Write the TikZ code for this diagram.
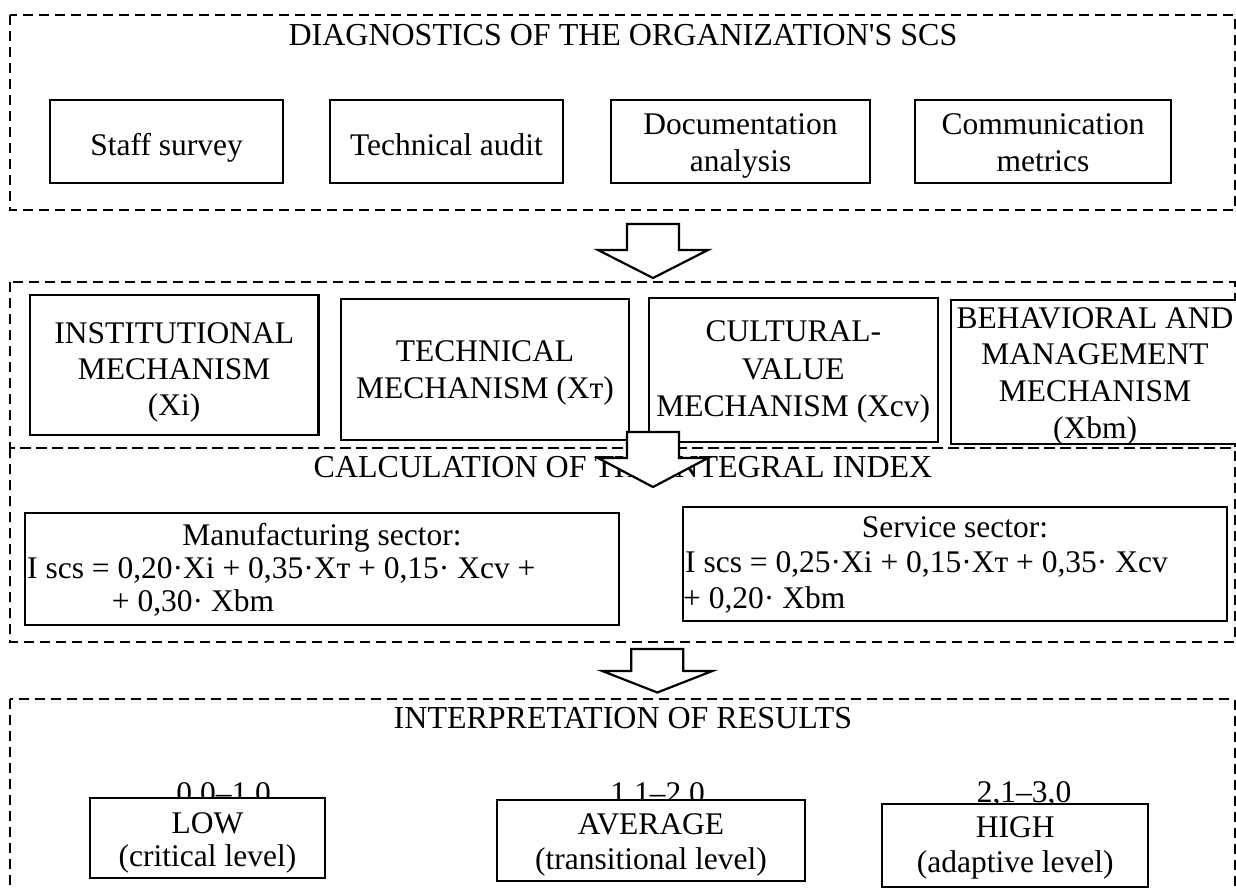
\documentclass[tikz,border=0pt]{standalone}
\usepackage{fontspec}
\setmainfont{Liberation Serif}
\newcommand{\mlines}[5]{% #1 name prefix, #2 x, #3 first baseline, #4 spacing, #5 lines
  \foreach \ln [count=\k from 0] in {#5} {%
    \node[lbl, anchor=base] (#1\k) at (#2,{#3+#4*\k}) {\ln};}}
\begin{document}
\begin{tikzpicture}[x=1pt,y=-1pt,
  font=\fontsize{31.5}{36}\selectfont,
  frame/.style={draw, line width=2pt, dash pattern=on 10pt off 6pt},
  box/.style={draw, line width=2.3pt, fill=white, inner sep=0pt},
  lbl/.style={inner sep=0pt},
  ttl/.style={inner sep=0pt, font=\fontsize{32}{36}\selectfont},
  barrow/.style={draw, line width=2.2pt, fill=white, line join=miter}]
\useasboundingbox (0,0) rectangle (1236,888);
\clip (0,0) rectangle (1236,888);

% frames
\draw[frame] (10,15) rectangle (1234.5,210);
\draw[frame] (10,282) rectangle (1234.5,448);
\draw[frame] (10,448) rectangle (1234.5,642);
\draw[frame] (10,699) rectangle (1234.5,900);

% titles
\node[ttl, anchor=base] (t1) at (623,46) {DIAGNOSTICS OF THE ORGANIZATION\textquotesingle S SCS};
\node[ttl, anchor=base] (t3) at (623,477) {CALCULATION OF THE INTEGRAL INDEX};
\node[ttl, anchor=base] (t4) at (623,728) {INTERPRETATION OF RESULTS};

% diagnostics boxes
\node[box, minimum width=233pt, minimum height=83pt] (staff) at (166.7,141.7) {};
\mlines{staffT}{166.7}{155}{36}{{Staff survey}}
\node[box, minimum width=233pt, minimum height=83pt] (audit) at (446.5,141.7) {};
\mlines{auditT}{446.5}{155}{36}{{Technical audit}}
\node[box, minimum width=259pt, minimum height=83pt] (doc) at (740.5,141.7) {};
\mlines{docT}{740.5}{135}{36.7}{{Documentation},{analysis}}
\node[box, minimum width=256pt, minimum height=83pt] (comm) at (1043,141.7) {};
\mlines{commT}{1043}{135}{36.7}{{Communication},{metrics}}

% mechanism boxes
\node[box, minimum width=288.5pt, minimum height=140pt] (inst) at (174.2,365) {};
\mlines{instT}{174.2}{343.3}{36.3}{{INSTITUTIONAL},{MECHANISM},{(Xi)}}
\node[box, minimum width=288pt, minimum height=141pt] (tech) at (485,369.5) {};
\mlines{techT}{485}{361.7}{36.3}{{TECHNICAL},{MECHANISM (Xт)}}
\node[box, minimum width=289pt, minimum height=144pt] (cult) at (793.3,370) {};
\mlines{cultT}{793.3}{341.7}{37.5}{{CULTURAL-},{VALUE},{MECHANISM (Xcv)}}
\node[box, minimum width=288pt, minimum height=144pt] (beh) at (1095,372) {};
\mlines{behT}{1095}{328}{36.7}{{BEHAVIORAL AND},{MANAGEMENT},{MECHANISM},{(Xbm)}}

% sector boxes
\node[box, minimum width=594pt, minimum height=112.3pt] (manu) at (322,568.8) {};
\node[lbl, anchor=base] (manu1) at (322,545) {Manufacturing sector:};
\node[lbl, anchor=base west] (manu2) at (27,578.3) {I scs = 0,20·Xi + 0,35·Xт + 0,15· Xcv +};
\node[lbl, anchor=base west] (manu3) at (111.7,611.7) {+ 0,30· Xbm};
\node[box, minimum width=544pt, minimum height=114pt] (serv) at (955,563.8) {};
\node[lbl, anchor=base] (serv1) at (955,537) {Service sector:};
\node[lbl, anchor=base west] (serv2) at (685,572.5) {I scs = 0,25·Xi + 0,15·Xт + 0,35· Xcv};
\node[lbl, anchor=base west] (serv3) at (683,608) {+ 0,20· Xbm};

% range labels (partly hidden by boxes)
\node[lbl, anchor=base] (r1) at (223.7,803) {0,0–1,0};
\node[lbl, anchor=base] (r2) at (657.7,803) {1,1–2,0};
\node[lbl, anchor=base] (r3) at (1024,802.5) {2,1–3,0};

% level boxes
\node[box, minimum width=235pt, minimum height=80pt] (low) at (207.5,838.3) {};
\mlines{lowT}{207.5}{833.3}{33.4}{{LOW},{(critical level)}}
\node[box, minimum width=308pt, minimum height=81pt] (avg) at (651,840.3) {};
\mlines{avgT}{651}{834.5}{34.5}{{AVERAGE},{(transitional level)}}
\node[box, minimum width=266pt, minimum height=83pt] (high) at (1015.2,845.3) {};
\mlines{highT}{1015.2}{837.5}{35}{{HIGH},{(adaptive level)}}

% block arrows
\draw[barrow, shift={(653,224)}] (-26,0) -- (26,0) -- (26,26) -- (55,26) -- (0,54) -- (-55,26) -- (-26,26) -- cycle;
\draw[barrow, shift={(653,432)}] (-26,0) -- (26,0) -- (26,26) -- (55,26) -- (0,55) -- (-55,26) -- (-26,26) -- cycle;
\draw[barrow, shift={(657.3,649)}] (-26,0) -- (26,0) -- (26,22) -- (55,22) -- (0,43.5) -- (-55,22) -- (-26,22) -- cycle;
\end{tikzpicture}
\end{document}
